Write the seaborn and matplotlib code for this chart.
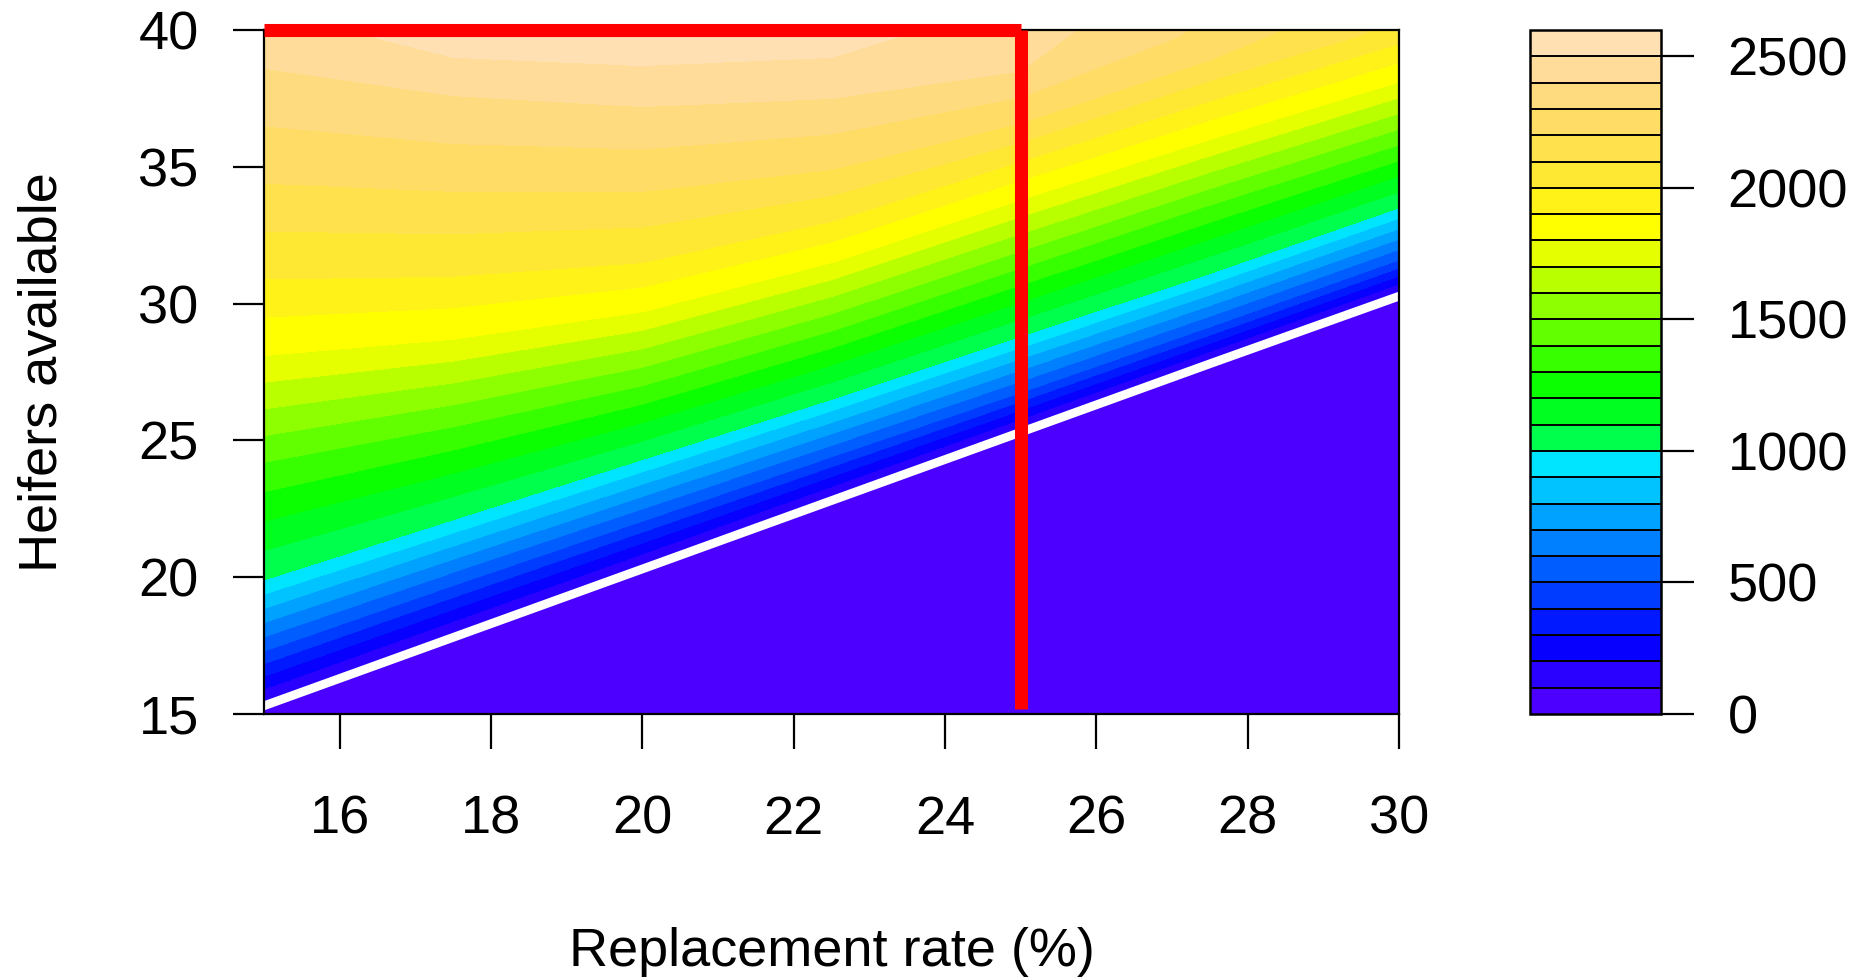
import numpy as np
import matplotlib
matplotlib.use("Agg")
import matplotlib.pyplot as plt
from matplotlib.colors import hsv_to_rgb
import seaborn as sns

nan = np.nan

rate = [15, 17.5, 20, 22.5, 25, 27.5, 30]
# heifers needed at each rate (white line); below it the value is 0
needed = [15.3, 17.8, 20.3, 22.8, 25.3, 27.8, 30.27]

# heifers available at which the surface reaches a level, per rate column
# (nan = level not reached below 40 heifers)
levels_read = [100, 500, 1000, 1400, 1800, 2000, 2200, 2400, 2500]
y_100 = [15.45, 17.95, 20.45, 22.95, 25.45, 27.95, 30.42]
y_500 = [17.3, 19.7, 22.05, 24.4, 26.75, 29.15, 31.6]
y_1000 = [19.9, 22.1, 24.3, 26.5, 28.8, 31.1, 33.5]
y_1400 = [24.2, 25.5, 27.0, 29.0, 31.3, 33.6, 35.8]
y_1800 = [28.1, 28.7, 29.7, 31.5, 33.8, 36.0, 38.1]
y_2000 = [30.9, 31.0, 31.5, 33.0, 35.2, 37.4, 39.5]
y_2200 = [34.4, 34.1, 34.1, 34.9, 36.6, 38.9, nan]
y_2400 = [38.6, 37.6, 37.2, 37.5, 38.5, nan, nan]
y_2500 = [nan, 39.0, 38.7, 39.0, nan, nan, nan]
# value along the top edge (40 heifers)
top_value = [2470, 2540, 2560, 2545, 2450, 2280, 2070]

# red guide lines
target_rate = 25
herd_heifers = 40
guide_bottom = 15.2

key_ticks = [0, 500, 1000, 1500, 2000, 2500]
x_ticks = [16, 18, 20, 22, 24, 26, 28, 30]
y_ticks = [15, 20, 25, 30, 35, 40]


def topo_colors(n):
    # same recipe as R's topo.colors()
    j = n // 3
    k = n // 3
    i = n - j - k
    hsv = [(h, 1, 1) for h in np.linspace(43 / 60, 31 / 60, i)]
    hsv += [(h, 1, 1) for h in np.linspace(23 / 60, 11 / 60, j)]
    hsv += [(h, s, 1) for h, s in zip(np.linspace(10 / 60, 6 / 60, k),
                                      np.linspace(1, 0.3, k))]
    return [tuple(c) for c in hsv_to_rgb(np.array(hsv))]


# curvilinear grid: one row per level read, one column per rate
top = np.array(top_value, float)
rows_y = [np.full(len(rate), 15.0), np.array(needed) - 0.02]
rows_z = [np.zeros(len(rate)), np.zeros(len(rate))]
for lev, ys in zip(levels_read, [y_100, y_500, y_1000, y_1400, y_1800,
                                 y_2000, y_2200, y_2400, y_2500]):
    ys = np.array(ys, float)
    miss = np.isnan(ys)
    rows_y.append(np.where(miss, 40.0, ys))
    rows_z.append(np.where(miss, top, lev))
rows_y.append(np.full(len(rate), 40.0))
rows_z.append(top)
X = np.tile(np.array(rate, float), (len(rows_y), 1))
Y = np.vstack(rows_y)
Z = np.vstack(rows_z)

levels = np.arange(0, 2700, 100)
cols = topo_colors(len(levels) - 1)

sns.set_theme(style="white")
plt.rcParams["font.family"] = ["Liberation Sans", "DejaVu Sans"]

W, H = 1864, 977
fig = plt.figure(figsize=(W / 100, H / 100), dpi=100)
ax = fig.add_axes([264 / W, 1 - 714 / H, 1135 / W, 684 / H])
cax = fig.add_axes([1530 / W, 1 - 714 / H, 131 / W, 684 / H])

cf = ax.contourf(X, Y, Z, levels=levels, colors=cols)

sns.lineplot(x=rate, y=needed, color="white", linewidth=6.3, ax=ax)
ax.plot([rate[0], target_rate], [herd_heifers, herd_heifers], color="red",
        lw=9.4, solid_capstyle="butt", clip_on=False, zorder=5)
ax.plot([target_rate, target_rate], [herd_heifers, guide_bottom], color="red",
        lw=9.4, solid_capstyle="butt", clip_on=False, zorder=5)

ax.set_xlim(15, 30)
ax.set_ylim(15, 40)
ax.set_xticks(x_ticks)
ax.set_yticks(y_ticks)
for s in ax.spines.values():
    s.set_visible(True)
    s.set_color("black")
    s.set_linewidth(1.6)
ax.tick_params(axis="x", bottom=True, length=25, width=1.6, pad=33,
               labelsize=39, colors="black")
ax.tick_params(axis="y", left=True, length=22, width=1.6, pad=25,
               labelsize=39, colors="black")
ax.set_xlabel("Replacement rate (%)", fontsize=39, color="black")
ax.set_ylabel("Heifers available", fontsize=39, color="black")
ax.xaxis.label.set_va("center")
ax.xaxis.set_label_coords(0.5, (714 - 952) / 684)
ax.yaxis.label.set_va("center")
ax.yaxis.set_label_coords((42 - 264) / 1135, 0.5)

cb = fig.colorbar(cf, cax=cax, ticks=key_ticks, drawedges=True)
cb.outline.set_linewidth(1.8)
cb.outline.set_edgecolor("black")
cb.dividers.set_color("black")
cb.dividers.set_linewidth(1.4)
cax.tick_params(axis="y", right=True, length=24, width=1.6, pad=24,
                labelsize=39, colors="black")

fig.savefig("out.png", dpi=100, facecolor="white")
